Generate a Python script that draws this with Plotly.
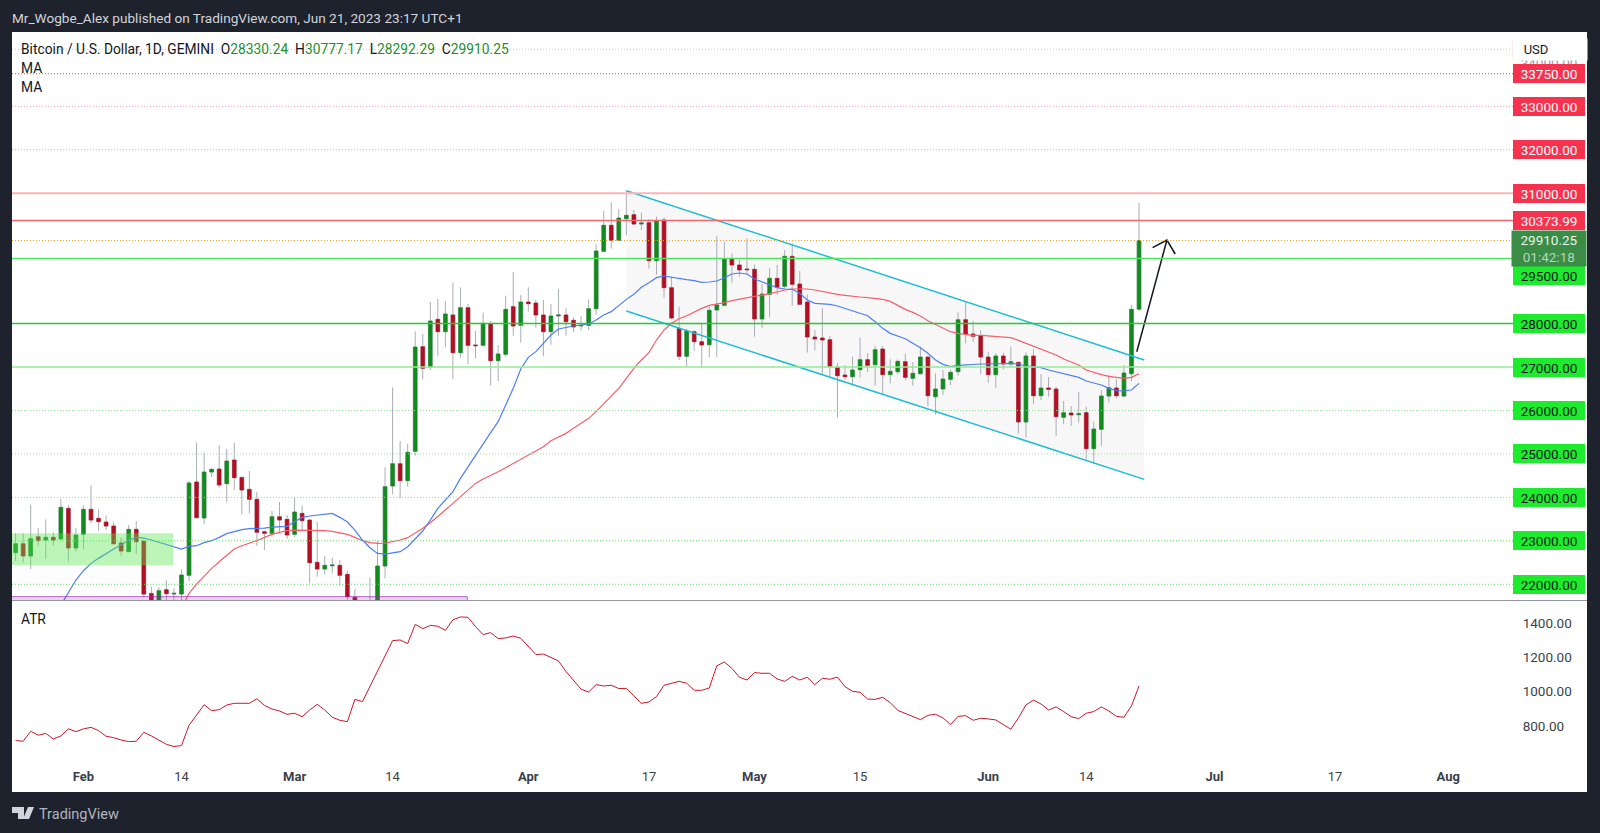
import pandas as pd
import plotly.graph_objects as go

# daily candles from Jan 23 to Jun 21 2023
opens = [22727, 22934, 22650, 23095, 23018, 23080, 23041, 23747, 22834, 23149, 23724, 23517, 23432, 23340, 22949,
         22750, 23264, 22995, 21790, 21500, 21875, 21775, 21775, 22205, 24353, 23525, 24583, 24652, 24315, 24859,
         24460, 24184, 23954, 23210, 23172, 23555, 23494, 23149, 23632, 23478, 22504, 22351, 22427, 22435, 22228,
         21699, 21350, 21250, 21500, 22420, 24261, 24775, 24384, 25059, 27468, 27000, 28097, 27813, 28197, 27330,
         28366, 27506, 27499, 27990, 27146, 27292, 28389, 27959, 28496, 28473, 28197, 27813, 28174, 28197, 28074,
         27944, 27959, 28343, 29662, 30261, 29915, 30414, 30506, 30291, 30322, 29447, 30383, 28826, 27890, 27246,
         27813, 27583, 27514, 28312, 28419, 29486, 29348, 29256, 29248, 28105, 28673, 29041, 28857, 29547, 28910,
         28496, 27690, 27667, 27629, 26992, 26816, 26778, 26939, 27169, 27054, 27414, 26824, 26893, 27123, 26739,
         26846, 27230, 26317, 26494, 26716, 26893, 28089, 27760, 27713, 27230, 26824, 27253, 27069, 27107, 25734,
         27253, 26340, 26517, 26494, 25842, 25941, 25903, 25949, 25120, 25565, 26332, 26517, 26332, 26846, 28330.24]
highs = [23172, 23172, 23831, 23294, 23494, 23195, 23962, 23824, 23302, 23816, 24276, 23724, 23586, 23425, 23080,
         23363, 23455, 23000, 21944, 21929, 22090, 21906, 22343, 24376, 25258, 25028, 24668, 25197, 25113, 25258,
         24476, 24606, 24131, 23233, 23686, 23893, 23594, 23993, 23808, 23490, 23440, 22650, 22612, 22558, 22312,
         21898, 21600, 22151, 23003, 24691, 26532, 25297, 25235, 27821, 27760, 28496, 28565, 28519, 28941, 28834,
         28450, 27829, 28251, 28059, 27506, 28642, 29187, 28657, 28834, 28542, 28542, 28450, 28795, 28350, 28143,
         28174, 28557, 29816, 30591, 30798, 30637, 31058, 30614, 30552, 30399, 30460, 30437, 29079, 28389, 27875,
         27852, 27990, 28389, 30023, 29877, 29616, 29463, 29961, 29355, 28903, 29271, 29348, 29693, 29846, 29210,
         28672, 27852, 28350, 27713, 27092, 27046, 27238, 27675, 27322, 27483, 27483, 27176, 27176, 27299, 27115,
         27468, 27238, 26854, 26931, 26939, 28258, 28504, 28059, 27844, 27353, 27315, 27330, 27468, 27123, 27338,
         27407, 26839, 26770, 26547, 26217, 26102, 26425, 26087, 25742, 26471, 26816, 26724, 27046, 28427, 30777.17]
lows = [22535, 22496, 22351, 22880, 22581, 22888, 23018, 22519, 22750, 22811, 23402, 23233, 23248, 22903, 22658,
        22742, 22696, 21699, 21350, 21400, 21620, 21600, 21630, 22074, 23517, 23379, 24468, 24223, 23885, 24169,
        23609, 23632, 22880, 22788, 23095, 23172, 23041, 23080, 23248, 22021, 22174, 22228, 22251, 21967, 21620,
        21200, 21050, 21100, 21400, 22136, 24069, 23977, 24246, 24959, 26716, 26931, 27253, 27453, 26716, 27215,
        27069, 27199, 27468, 26570, 26678, 27238, 27721, 27560, 28274, 27905, 27253, 27514, 27721, 27721, 27813,
        27836, 27852, 28197, 29647, 29724, 29908, 30038, 30268, 30153, 29263, 29125, 28596, 28100, 27161, 27008,
        27368, 26969, 27222, 27238, 28404, 28941, 29079, 29140, 27698, 27898, 28143, 28657, 28810, 28412, 28427,
        27330, 27384, 26816, 26778, 25834, 26716, 26609, 26755, 26893, 26570, 26379, 26624, 26831, 26701, 26570,
        26831, 26102, 25903, 26355, 26586, 26801, 27545, 27575, 26839, 26639, 26524, 26946, 27008, 25473, 25373,
        26148, 26240, 26317, 25412, 25680, 25642, 25719, 24875, 24767, 25182, 26179, 26279, 26302, 26678, 28292.29]
closes = [22934, 22650, 23049, 23003, 23080, 23018, 23770, 22834, 23133, 23724, 23478, 23440, 23340, 22934, 22765,
          23264, 22980, 21775, 21500, 21852, 21783, 21791, 22213, 24330, 23532, 24583, 24645, 24284, 24836, 24453,
          24169, 23954, 23195, 23172, 23555, 23478, 23133, 23663, 23463, 22496, 22351, 22435, 22443, 22205, 21714,
          21350, 21250, 21500, 22420, 24246, 24775, 24384, 25036, 27460, 26969, 28059, 27813, 28220, 27330, 28366,
          27499, 27491, 28005, 27146, 27299, 28327, 27944, 28496, 28458, 28197, 27813, 28174, 28197, 28043, 27921,
          27959, 28343, 29670, 30261, 29915, 30429, 30491, 30291, 30314, 29447, 30368, 28826, 28128, 27246, 27829,
          27583, 27506, 28304, 28427, 29493, 29348, 29233, 29240, 28105, 28680, 29041, 28834, 29547, 28903, 28442,
          27690, 27644, 27621, 27008, 26801, 26778, 26931, 27169, 27038, 27399, 26824, 26900, 27130, 26762, 26854,
          27230, 26340, 26494, 26724, 26877, 28089, 27760, 27706, 27230, 26824, 27253, 27069, 27123, 25734, 27253,
          26340, 26517, 26486, 25857, 25949, 25895, 25926, 25120, 25573, 26332, 26524, 26340, 26862, 28327, 29910.25]

# the two moving averages, None before they start
ma_blue = [None] * 6 + [
    21522, 21814, 22098, 22312, 22481, 22596, 22711, 22811, 22903, 23018, 23080, 23064, 23018, 22964, 22918,
    22865, 22811, 22872, 22888, 22957, 23003, 23080, 23164, 23210, 23256, 23279, 23279, 23294, 23317, 23325,
    23333, 23440, 23540, 23571, 23594, 23617, 23632, 23540, 23432, 23248, 23018, 22842, 22711, 22696, 22719,
    22750, 22865, 23041, 23225, 23478, 23747, 23939, 24131, 24437, 24706, 24974, 25243, 25489, 25742, 26125,
    26509, 26954, 27222, 27353, 27545, 27736, 27875, 27913, 27944, 27967, 27990, 28082, 28197, 28274, 28427,
    28557, 28672, 28834, 28941, 29056, 29094, 29064, 29025, 29010, 28987, 28949, 28956, 28979, 29056, 29140,
    29164, 29140, 29025, 28964, 28887, 28826, 28795, 28788, 28696, 28542, 28465, 28450, 28442, 28404, 28350,
    28297, 28235, 28181, 28043, 27890, 27775, 27721, 27652, 27545, 27445, 27315, 27161, 27061, 27008, 27038,
    27054, 27061, 27069, 27069, 27077, 27092, 27084, 27069, 27023, 27008, 26985, 26931, 26893, 26854, 26801,
    26762, 26678, 26624, 26586, 26509, 26455, 26448, 26471, 26624]
ma_red = [None] * 22 + [
    21445, 21791, 22005, 22190, 22366, 22519, 22673, 22811, 22888, 22941, 23003, 23080, 23149, 23195, 23233,
    23248, 23248, 23248, 23241, 23233, 23218, 23187, 23149, 23080, 23003, 22957, 22941, 22949, 22980, 23018,
    23072, 23172, 23287, 23417, 23555, 23709, 23862, 24015, 24169, 24322, 24422, 24499, 24591, 24683, 24783,
    24875, 24974, 25067, 25166, 25304, 25381, 25473, 25588, 25704, 25819, 25972, 26148, 26317, 26509, 26739,
    26969, 27161, 27330, 27621, 27852, 28005, 28112, 28181, 28274, 28350, 28419, 28442, 28481, 28527, 28557,
    28588, 28611, 28650, 28688, 28726, 28772, 28795, 28803, 28795, 28772, 28734, 28703, 28672, 28650, 28626,
    28611, 28596, 28580, 28557, 28511, 28419, 28327, 28258, 28174, 28066, 27982, 27913, 27813, 27775, 27744,
    27729, 27729, 27713, 27706, 27698, 27675, 27614, 27545, 27468, 27407, 27338, 27276, 27184, 27115, 27046,
    26931, 26870, 26824, 26785, 26762, 26739, 26762, 26846]

atr = [715, 711, 769, 746, 757, 724, 742, 783, 767, 783, 792, 773, 740, 732, 718,
       709, 711, 763, 742, 717, 693, 680, 686, 804, 864, 924, 889, 895, 922, 932,
       932, 932, 959, 920, 899, 887, 868, 874, 854, 893, 926, 893, 851, 833, 825,
       955, 942, 1029, 1117, 1204, 1297, 1301, 1280, 1392, 1367, 1386, 1381, 1357, 1419, 1435,
       1433, 1379, 1332, 1344, 1309, 1313, 1324, 1311, 1262, 1216, 1219, 1200, 1179, 1117, 1068,
       1014, 998, 1041, 1033, 1037, 1018, 1019, 975, 932, 940, 971, 1037, 1049, 1060, 1049,
       1008, 1008, 1021, 1150, 1173, 1136, 1084, 1068, 1111, 1107, 1107, 1074, 1060, 1089, 1068,
       1084, 1041, 1078, 1072, 1085, 1029, 1002, 996, 957, 955, 967, 936, 891, 874, 854,
       837, 862, 868, 847, 808, 856, 860, 833, 845, 841, 835, 808, 781, 847, 922,
       951, 928, 893, 911, 884, 854, 843, 874, 884, 911, 887, 856, 851, 917, 1033]

dates = pd.date_range("2023-01-23", periods=len(closes), freq="D")

# drawings, positions in days after the first candle
channel_days = [81, 149.7]
channel_top = [31058, 27161]
channel_bottom = [28289, 24415]
arrow_days = [148.7, 152.7, None, 150.8, 152.7, 153.8]
arrow_prices = [27353, 29923, None, 29747, 29923, 29601]
box_green_days = [-2, 20.9]
box_green_prices = [22436, 23173]
box_purple_days = [-2, 59.9]
box_purple_prices = [21400, 21715]

# horizontal levels: price, colour, width, dash
level_prices = [34312, 33750, 33000, 32000, 31000, 30373.99, 29910.25, 29500, 28000, 27000,
                26000, 25000, 24000, 23000, 22000]
level_colors = ["#fbb4bb", "#e8434f", "#f9a0a8", "#f9a0a8", "#ffb3b8", "#f2666e", "#f59e1b", "#4fe35e", "#22cc2e",
                "#93eb93", "#8ce88c", "#8ce88c", "#8ce88c", "#5ee05e", "#5ee05e"]
level_widths = [1, 1, 1, 1, 2, 1.5, 1, 1.5, 1.5, 1.5, 1, 1, 1, 1, 1]
level_dashes = ["dot", "dot", "dot", "dot", "solid", "solid", "dot", "solid", "solid", "solid",
                "dot", "dot", "dot", "dot", "dot"]

red_labels = ["33750.00", "33000.00", "32000.00", "31000.00", "30373.99"]
red_label_prices = [33750, 33000, 32000, 31000, 30373.99]
green_labels = ["29500.00", "28000.00", "27000.00", "26000.00", "25000.00", "24000.00", "23000.00", "22000.00"]
green_label_prices = [29500, 28000, 27000, 26000, 25000, 24000, 23000, 22000]

atr_ticks = [800, 1000, 1200, 1400]
atr_tick_text = ["800.00", "1000.00", "1200.00", "1400.00"]
time_ticks = ["2023-02-01", "2023-02-14", "2023-03-01", "2023-03-14", "2023-04-01", "2023-04-17", "2023-05-01",
              "2023-05-15", "2023-06-01", "2023-06-14", "2023-07-01", "2023-07-17", "2023-08-01"]
time_text = ["<b>Feb</b>", "14", "<b>Mar</b>", "14", "<b>Apr</b>", "17", "<b>May</b>",
             "15", "<b>Jun</b>", "14", "<b>Jul</b>", "17", "<b>Aug</b>"]

W, H = 1600, 833
BG = "#1e222d"
GREEN = "#128a1e"
RED = "#b20f22"
FONT = "Roboto"


def day(n):
    return pd.Timestamp("2023-01-23") + pd.to_timedelta(n, "D")


def py(y):
    return (H - y) / H


def path_day(n):
    return day(n).strftime("%Y-%m-%d_%H:%M")


x_range = [day(-0.48), day(198.6)]
x_domain = [12 / W, 1513 / W]

fig = go.Figure()

# wicks first, then bodies on top so the wicks stay grey
fig.add_trace(go.Candlestick(
    x=dates, open=opens, high=highs, low=lows, close=closes, whiskerwidth=0,
    increasing=dict(line=dict(color="#a9adb6", width=1), fillcolor="rgba(0,0,0,0)"),
    decreasing=dict(line=dict(color="#a9adb6", width=1), fillcolor="rgba(0,0,0,0)"),
    hoverinfo="skip",
))
body_high = [max(a, b) for a, b in zip(opens, closes)]
body_low = [min(a, b) for a, b in zip(opens, closes)]
fig.add_trace(go.Candlestick(
    x=dates, open=opens, high=body_high, low=body_low, close=closes, whiskerwidth=0,
    increasing=dict(line=dict(color=GREEN, width=0.5), fillcolor=GREEN),
    decreasing=dict(line=dict(color=RED, width=0.5), fillcolor=RED),
    hoverinfo="skip",
))

fig.add_trace(go.Scatter(x=dates, y=ma_red, mode="lines", line=dict(color="#f4606c", width=1.2), hoverinfo="skip"))
fig.add_trace(go.Scatter(x=dates, y=ma_blue, mode="lines", line=dict(color="#4d7ff0", width=1.2), hoverinfo="skip"))

for prices in (channel_top, channel_bottom):
    fig.add_trace(go.Scatter(x=[day(d) for d in channel_days], y=prices, mode="lines",
                             line=dict(color="#1fbcd2", width=1.5), hoverinfo="skip"))

fig.add_trace(go.Scatter(x=[day(d) if d is not None else None for d in arrow_days], y=arrow_prices, mode="lines",
                         line=dict(color="#131722", width=1.5), hoverinfo="skip"))

fig.add_trace(go.Scatter(x=dates, y=atr, mode="lines", line=dict(color="#c8182a", width=1),
                         xaxis="x2", yaxis="y2", hoverinfo="skip"))

# white panel behind both panes
fig.add_shape(type="rect", xref="paper", yref="paper", x0=12 / W, x1=1587 / W, y0=py(792), y1=py(32),
              fillcolor="#ffffff", line=dict(width=0), layer="below")

channel_path = "M{},{} L{},{} L{},{} L{},{} Z".format(
    path_day(channel_days[0]), channel_top[0],
    path_day(channel_days[1]), channel_top[1],
    path_day(channel_days[1]), channel_bottom[1],
    path_day(channel_days[0]), channel_bottom[0])
fig.add_shape(type="path", path=channel_path, xref="x", yref="y", fillcolor="#f7f7f7",
              line=dict(width=0), layer="below")

fig.add_shape(type="rect", xref="x", yref="y", x0=day(box_green_days[0]), x1=day(box_green_days[1]),
              y0=box_green_prices[0], y1=box_green_prices[1], fillcolor="rgba(90,230,80,0.4)",
              line=dict(width=0), layer="above")
fig.add_shape(type="rect", xref="x", yref="y", x0=day(box_purple_days[0]), x1=day(box_purple_days[1]),
              y0=box_purple_prices[0], y1=box_purple_prices[1], fillcolor="rgba(156,39,176,0.2)",
              line=dict(color="rgba(156,39,176,0.7)", width=1), layer="above")

for p, c, w, d in zip(level_prices, level_colors, level_widths, level_dashes):
    fig.add_shape(type="line", xref="x domain", yref="y", x0=0, x1=1, y0=p, y1=p,
                  line=dict(color=c, width=w, dash="1px,2px" if d == "dot" else d), layer="above")

# separator between the panes and the little border of the USD box
fig.add_shape(type="line", xref="paper", yref="paper", x0=12 / W, x1=1587 / W, y0=py(600.5), y1=py(600.5),
              line=dict(color="#9598a1", width=1))
fig.add_shape(type="line", xref="paper", yref="paper", x0=1513 / W, x1=1513 / W, y0=py(59), y1=py(40),
              line=dict(color="#f9a0a8", width=1))

label_x = 1549 / W


def price_label(text, price, bg, color, border=None, yshift=0):
    fig.add_annotation(xref="paper", yref="y", x=label_x, y=price, xanchor="center", yanchor="middle",
                       text=text, showarrow=False, yshift=yshift, width=70, height=17, bgcolor=bg,
                       bordercolor=border or bg, borderwidth=1, borderpad=0,
                       font=dict(family=FONT, size=13.5, color=color))


price_label("34000.00", 34000, "rgba(0,0,0,0)", "#9a9da5")
fig.add_annotation(xref="paper", yref="paper", x=1550 / W, y=py(49.5), xanchor="center", yanchor="middle",
                   text="&nbsp;&nbsp;&nbsp;USD", align="left", showarrow=False, width=72, height=19,
                   bgcolor="#ffffff", font=dict(family=FONT, size=13, color="#131722"))
for text, p in zip(red_labels, red_label_prices):
    price_label(text, p, "#f5334f", "#ffffff")
for text, p in zip(green_labels, green_label_prices):
    price_label(text, p, "#1eea2e", "#131722", yshift=-17 if p == 29500 else 0)
fig.add_annotation(xref="paper", yref="y", x=label_x, y=closes[-1], yshift=-8, xanchor="center", yanchor="middle",
                   showarrow=False, text="29910.25<br><span style='color:#b5d6b9'>01:42:18</span>",
                   width=72, height=33, bgcolor="#3b8c46", font=dict(family=FONT, size=13.5, color="#e8f3e9"))


def pane_text(text, x, y, size=13.8, color="#131722"):
    fig.add_annotation(xref="paper", yref="paper", x=x / W, y=py(y), xanchor="left", yanchor="middle", text=text,
                       showarrow=False, font=dict(family=FONT, size=size, color=color))


num = "<span style='color:#1f8f2f'>{}</span>"
pane_text("Bitcoin / U.S. Dollar, 1D, GEMINI  O" + num.format("28330.24") + "  H" + num.format("30777.17")
          + "  L" + num.format("28292.29") + "  C" + num.format("29910.25"), 18.5, 49)
pane_text("MA", 18.5, 68)
pane_text("MA", 18.5, 87)
pane_text("ATR", 18.5, 619)
pane_text("Mr_Wogbe_Alex published on TradingView.com, Jun 21, 2023 23:17 UTC+1", 10, 18, 13.6, "#d1d4dc")
pane_text("TradingView", 37, 814, 14.5, "#b2b5be")

# TradingView mark next to the footer text
fig.add_shape(type="path", xref="paper", yref="paper", fillcolor="#d1d4dc", line=dict(width=0),
              path="M {} {} L {} {} L {} {} L {} {} L {} {} L {} {} Z".format(
                  12 / W, py(807), 24 / W, py(807), 24 / W, py(819), 18 / W, py(819), 18 / W, py(813), 12 / W, py(813)))
fig.add_shape(type="path", xref="paper", yref="paper", fillcolor="#d1d4dc", line=dict(width=0),
              path="M {} {} L {} {} L {} {} L {} {} Z".format(
                  28 / W, py(807), 34 / W, py(807), 29 / W, py(819), 23 / W, py(819)))

fig.update_layout(
    width=W, height=H,
    margin=dict(l=0, r=0, t=0, b=0),
    paper_bgcolor=BG,
    plot_bgcolor="rgba(0,0,0,0)",
    showlegend=False,
    font=dict(family=FONT, color="#131722"),
    xaxis=dict(domain=x_domain, type="date", range=x_range, showgrid=False, zeroline=False, showticklabels=False,
               ticks="", rangeslider=dict(visible=False), anchor="y"),
    yaxis=dict(domain=[py(600), py(31.7)], range=[21638, 34717], showgrid=False, zeroline=False,
               showticklabels=False, ticks="", anchor="x"),
    xaxis2=dict(domain=x_domain, type="date", range=x_range, matches="x", showgrid=False, zeroline=False,
                tickmode="array", tickvals=time_ticks, ticktext=time_text, ticks="", anchor="y2",
                tickfont=dict(family=FONT, size=13, color="#3b3f4a")),
    yaxis2=dict(domain=[py(767), py(601)], range=[561, 1528], showgrid=False, zeroline=False, side="right",
                tickmode="array", tickvals=atr_ticks, ticktext=atr_tick_text, ticks="outside", ticklen=6,
                tickcolor="rgba(0,0,0,0)", tickfont=dict(family=FONT, size=13.5, color="#3b3f4a"), anchor="x2"),
)

# the page has a default body margin that would shift everything by 8px
fig.write_html("out.html", config={"displayModeBar": False},
               post_script="document.body.style.margin='0';document.body.style.background='%s';" % BG)
